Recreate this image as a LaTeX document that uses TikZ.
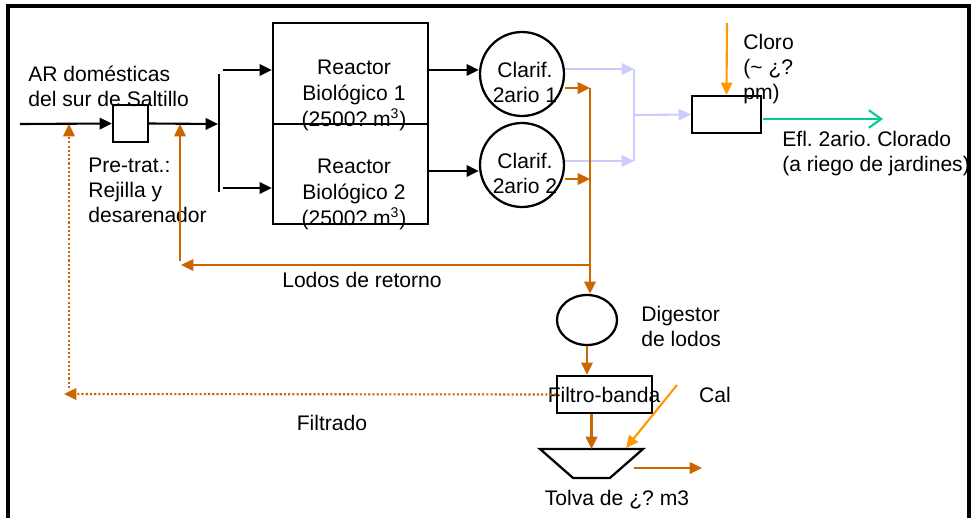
\documentclass[tikz,border=0pt]{standalone}
\usepackage{fontspec}
\setmainfont{Liberation Sans}
\usepackage{tikz}
\usetikzlibrary{calc,positioning,arrows.meta,shapes.geometric}
\definecolor{lodo}{RGB}{204,102,0}
\definecolor{dosis}{RGB}{255,153,0}
\definecolor{efluente}{RGB}{204,204,255}
\definecolor{clorado}{RGB}{0,204,153}
\tikzset{
    unit box/.style={
        draw,line width=1.3pt,inner sep=0pt
    },
    plain text/.style={
        inner sep=0pt,align=center,
        font=\fontsize{12}{14.2}\selectfont
    },
    flow/.style={line width=1.2pt,-{Triangle[length=7pt,width=6.5pt]}},
    sludge/.style={flow,draw=lodo},
    filtrate/.style={sludge,dash pattern=on 1.2pt off 1.2pt},
    effluent/.style={flow,draw=efluente},
    dose/.style={flow,draw=dosis},
    treated/.style={line width=1.2pt,draw=clorado,-{Straight Barb[length=7pt,width=10pt]}}
}
\begin{document}
\frenchspacing
\begin{tikzpicture}[x=0.02cm,y=-0.02cm]
\useasboundingbox (0,0) rectangle (975,518);
\draw[line width=2pt] (8,518) -- (8,6) -- (969,6) -- (969,518);

% units
\node[unit box,minimum width=.7cm,minimum height=.74cm] (pretrat) at (130.5,123.5) {};
\foreach \i/\y in {1/73.5,2/174}
    \node[unit box,minimum width=3.1cm,minimum height=2.01cm] (reac_\i) at (350.5,\y) {};
\foreach \i/\y in {1/74,2/165}
    \node[unit box,circle,minimum size=1.68cm] (clar_\i) at (522,\y) {};
\node[unit box,minimum width=1.38cm,minimum height=.74cm] (chlor) at (726.5,114.5) {};
\node[unit box,ellipse,minimum width=1.2cm,minimum height=1cm] (dig) at (587,320) {};
\node[unit box,minimum width=1.9cm,minimum height=.74cm] (filtro) at (604.5,394.5) {};
\node[unit box,inner sep=1pt,trapezium,trapezium stretches=true,trapezium angle=48,shape border rotate=180,
      minimum width=2.06cm,minimum height=.58cm] (tolva) at (591.5,463.5) {};
\coordinate (tolva_top) at ($(tolva.center)+(0,-14.5)$);

% texts
\node[plain text,anchor=west,align=left] (ar_txt) at (28,86.5) {AR domésticas\\del sur de Saltillo};
\node[plain text,anchor=west,align=left] (pre_txt) at (88,190) {Pre-trat.:\\Rejilla y\\desarenador};
\foreach \i/\y in {1/95,2/194}
    \node[plain text,font=\fontsize{12}{14.8}\selectfont] (reac_\i_txt) at (354,\y) {Reactor\\Biológico \i\\(2500? m\textsuperscript{3})};
\foreach \i/\y in {1/82.5,2/173.5}
    \node[plain text] (clar_\i_txt) at (525,\y) {Clarif.\\2ario \i};
\node[plain text,anchor=west,align=left] (cl_txt) at (743,69) {Cloro\\(\textasciitilde{} ¿?\\pm)};
\node[plain text,anchor=west,align=left] (efl_txt) at (782,153.5) {Efl. 2ario. Clorado\\(a riego de jardines)};
\node[plain text] (ret_txt) at (362,280) {Lodos de retorno};
\node[plain text,anchor=west,align=left] (dig_txt) at (641,326) {Digestor\\de lodos};
\node[plain text] (filtro_txt) at (604,395) {Filtro-banda};
\node[plain text] (fil_txt) at (332,423) {Filtrado};
\node[plain text] (cal_txt) at (715,395) {Cal};
\node[plain text] (tolva_txt) at (617,500) {Tolva de ¿? m3};

% main line
\coordinate (ar_in) at (20,124);
\coordinate (split) at (218,124);
\coordinate (bar_top) at (219,74);
\coordinate (bar_bot) at (219,192);
\draw[flow] (ar_in) -- (pretrat.west);
\draw[flow] (pretrat.east) -- (split);
\draw[line width=1.2pt] (bar_top) -- (bar_bot);
\foreach \i/\ya/\yb in {1/70/70,2/188/171} {
    \coordinate (br_\i) at (223,\ya);
    \coordinate (rc_\i) at (450,\yb);
    \draw[flow] (br_\i) -- (br_\i -| reac_\i.west);
    \draw[flow] (rc_\i -| reac_\i.east) -- (rc_\i -| clar_\i.west);
}

% clarified water and sludge from clarifiers
\foreach \i/\ya/\yb in {1/69/88,2/161/179} {
    \coordinate (ef_\i) at (634,\ya);
    \coordinate (ret_\i) at (590,\yb);
    \draw[effluent] (ef_\i -| clar_\i.east) -- (ef_\i);
    \draw[sludge] (ret_\i -| clar_\i.east) -- (ret_\i);
}
\coordinate (ef_m) at ($(ef_1)!.5!(ef_2)$);
\draw[line width=1.2pt,efluente] (ef_1) -- (ef_2);
\draw[effluent] (ef_m) -- (chlor.west);
\coordinate (cl_in) at (727,23);
\draw[dose] (cl_in) -- (chlor.north);
\coordinate (efl_a) at (763,119);
\coordinate (efl_b) at (883,119);
\draw[treated] (efl_a) -- (efl_b);

% sludge line
\draw[sludge] (ret_1) -- (ret_1 |- dig.north);
\coordinate (ret_L) at (590,265);
\coordinate (ret_end) at (181,265);
\coordinate (ret_up) at (180,261);
\coordinate (ret_in) at (180,124);
\draw[sludge] (ret_L) -- (ret_end);
\draw[sludge] (ret_up) -- (ret_in);
\draw[sludge] (dig.south) -- (dig.south |- filtro.north);
\draw[sludge] (filtro.south -| tolva_top) -- (tolva_top);
\coordinate (fil_end) at (64,394);
\coordinate (fil_up) at (69,388);
\coordinate (fil_in) at (69,124);
\draw[filtrate] (filtro.west) -- (fil_end);
\draw[filtrate] (fil_up) -- (fil_in);
\coordinate (cal_a) at (677,385);
\coordinate (cal_b) at (626,448);
\draw[dose] (cal_a) -- (cal_b);
\coordinate (tv_a) at (634,468);
\coordinate (tv_b) at (702,468);
\draw[sludge] (tv_a) -- (tv_b);
\end{tikzpicture}
\end{document}
